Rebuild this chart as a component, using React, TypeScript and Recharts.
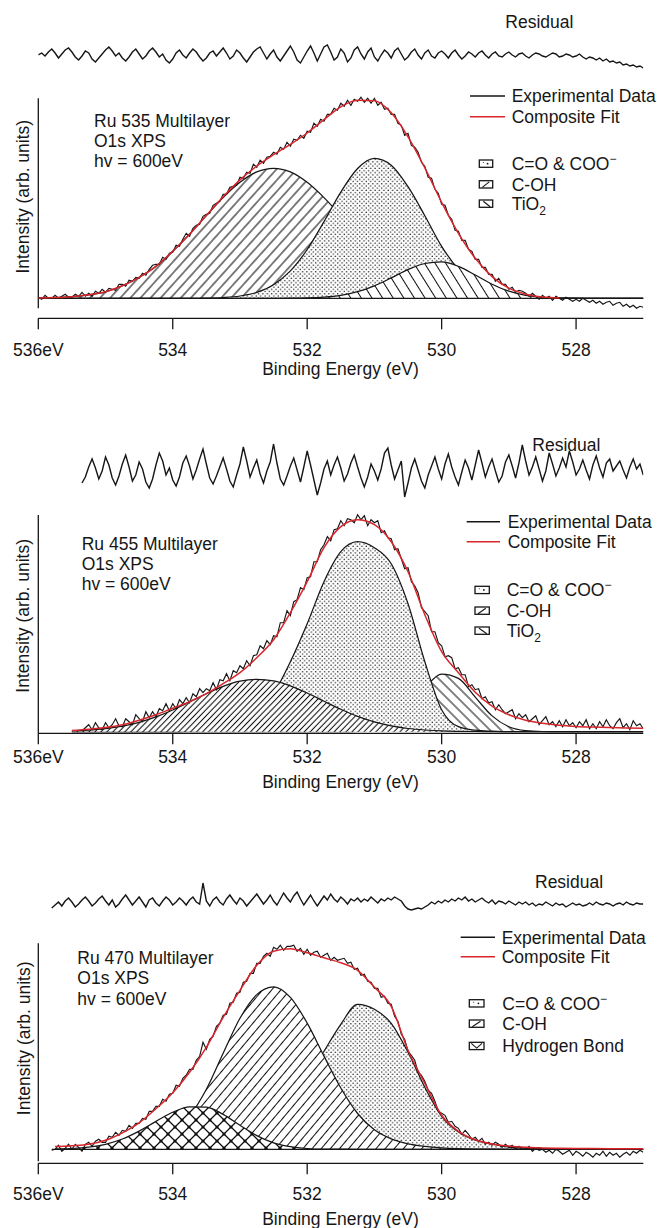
import React from 'react';
import { ComposedChart, LineChart, Line, Area, XAxis, YAxis, ReferenceLine } from 'recharts';

const FONT = '"Liberation Sans", Arial, Helvetica, sans-serif';
const INK = '#161616';
const RED = '#d8262c';
const W = 657;
const M_LEFT = 38.3;
const M_RIGHT = 13.7;

const E_HIGH = 536;
const E_LOW = 527;
const FINE_STEP = 0.05; // experimental data + residual sampling (eV)
const COARSE_STEP = 0.25; // fit + component sampling (eV)
const X_TICKS = [536, 534, 532, 530, 528];

// ---------------- Panel 1 : Ru 535 ----------------
const P1_EXP_START = 536;
const P1_EXP = [
  1, -1, 3, 0, 0, 3, 0, 2, 4, 1, 1, 4, 2, 6, 2, 5, 2, 7, 5, 9,
  6, 10, 9, 8, 14, 14, 12, 18, 17, 21, 20, 25, 23, 29, 33, 34, 34, 41, 39, 45,
  46, 53, 52, 59, 65, 62, 70, 73, 74, 82, 84, 85, 93, 95, 97, 104, 104, 111, 112, 113,
  121, 120, 126, 125, 134, 131, 138, 135, 141, 142, 146, 144, 151, 149, 156, 152, 159, 158, 163, 160,
  167, 166, 175, 172, 179, 177, 184, 184, 190, 188, 195, 192, 198, 193, 199, 197, 201, 196, 200, 195,
  200, 193, 196, 189, 190, 184, 184, 175, 173, 163, 165, 153, 151, 146, 136, 132, 121, 120, 109, 105,
  94, 93, 83, 79, 68, 67, 58, 58, 49, 47, 39, 39, 31, 31, 24, 24, 17, 20, 14, 14,
  9, 11, 6, 8, 7, 5, 2, 5, 2, -1, 3, 0, 2, -2, 2, 0, -2, 1, -1, -3,
  -1, -3, 0, -2, -4, -2, -5, -3, -6, -4, -3, -7, -5, -4, -8, -6, -9, -7, -10, -8,
  -9,
];
const P1_RES_START = 536;
const P1_RES = [
  0, 2, -1, 3, 6, 2, -3, 1, 5, 7, 3, -2, -5, -1, 4, 2, -4, -7, -3, 1,
  5, 8, 4, -1, 2, -3, -6, -2, 3, 6, 1, -4, -1, 4, 7, 3, -2, 1, -5, -8,
  -4, 2, 5, 0, -3, 2, 6, 3, -2, -6, -3, 2, 4, -1, 3, 7, 2, -4, -1, 5,
  2, -3, -7, -2, 3, 6, 8, 2, -4, 1, 5, -2, -6, -1, 4, 9, 3, -5, -8, -2,
  4, 9, 2, -6, 1, 8, 10, 3, -5, -2, 6, 2, -7, -3, 5, 8, 1, -4, 3, 7,
  -2, -6, 0, 5, 2, -3, 4, 7, 1, -5, -2, 3, 6, 0, -4, 2, 5, -1, -3, 2,
  4, 1, -3, 2, 5, 0, -4, -1, 3, 1, -2, 2, 4, 0, -3, 1, 3, -1, -2, 1,
  3, 0, -2, 1, 2, -1, -3, 0, 2, 1, -1, -2, 0, 2, 1, -2, -1, 1, 0, -2,
  -1, 1, -2, -4, -2, -3, -5, -3, -6, -4, -7, -6, -8, -7, -10, -9, -11, -10, -12, -11,
  -13,
];
const P1_FIT = [
  0.3, 0.7, 1.6, 3.5, 6.5, 12.5, 21, 32, 47, 64, 83, 101.5, 118.4, 132.3, 143.6, 153.9, 165.3, 178.6, 191.5,
  198, 197.5, 185.5, 161.5, 130.4, 96, 65, 40, 21.7, 10.1, 4.1, 1.3, 0.4, null, null, null, null, null,
];
const P1_COH = [
  0.3, 0.7, 1.6, 3.5, 6.5, 12.5, 21, 32, 47, 64, 82.6, 100.7, 116, 126.4, 130, 126.4, 116, 100.7, 82.6,
  64, 47, 32.4, 21.2, 13, 7.6, 4.2, 2.2, 1.1, 0.5, 0.2, 0, 0, 0, 0, 0, 0, 0,
];
const P1_CO = [
  0, 0, 0, 0, 0, 0, 0, 0, 0, 0, 0.2, 0.8, 2.3, 5.9, 13.6, 27.4, 48.8, 76.7, 106.2,
  129.8, 139.9, 133.1, 111.6, 82.6, 52, 29, 14.5, 6.5, 2.5, 0.9, 0.3, 0.1, 0, 0, 0, 0, 0,
];
const P1_TIO2 = [
  0, 0, 0, 0, 0, 0, 0, 0, 0, 0, 0, 0, 0, 0, 0, 0.1, 0.4, 1.2, 3,
  6.6, 12.5, 20.4, 28.7, 34.8, 36.4, 31.9, 23.3, 14.1, 7.1, 3, 1, 0.3, 0.1, 0, 0, 0, 0,
];

// ---------------- Panel 2 : Ru 455 ----------------
const P2_EXP_START = 535.35;
const P2_EXP = [
  1, 4,
  7, 2, 9, 4, 2, 9, 4, 7, 13, 6, 5, 13, 10, 7, 17, 13, 10, 20, 14, 20,
  15, 23, 21, 28, 21, 28, 23, 32, 28, 34, 29, 38, 35, 43, 39, 43, 41, 49, 42, 52,
  51, 58, 51, 61, 59, 66, 63, 71, 66, 76, 77, 86, 83, 91, 87, 96, 95, 109, 109, 121,
  116, 130, 132, 144, 142, 154, 155, 170, 170, 182, 187, 195, 191, 202, 203, 211, 206, 213, 212, 209,
  217, 212, 216, 206, 212, 209, 211, 199, 201, 194, 193, 182, 183, 173, 163, 164, 150, 146, 139, 124,
  120, 116, 100, 100, 89, 86, 75, 76, 74, 63, 64, 57, 57, 45, 47, 42, 43, 33, 35, 29,
  30, 22, 27, 22, 18, 20, 22, 13, 18, 14, 17, 10, 13, 16, 7, 11, 15, 7, 10, 5,
  11, 5, 12, 6, 9, 4, 10, 6, 12, 3, 8, 3, 10, 5, 12, 6, 3, 9, 13, 4,
  8, 2, 11, 6, 8, 3,
];
const P2_RES_START = 535.35;
const P2_RES = [
  -10, -4, 6, 14, 5, -6, 2, 16, 8, -5, -12, -3, 9, 18, 6, -8, -2, 11, 4, -9,
  -15, -6, 8, 20, 12, -2, 5, -7, -13, -4, 10, 17, 7, -6, 3, 14, 24, 9, -5, -11,
  -3, 6, 15, 4, -8, -14, -2, 9, 26, 12, -4, 5, 13, -1, -10, 2, 11, 29, 10, -6,
  -12, -3, 7, 15, 3, -9, 6, 22, 8, -7, -22, -10, 4, 12, -2, 8, 16, 5, -8, -1,
  10, 18, 6, -5, -14, -4, 9, 2, -7, 4, 20, 25, 8, -6, 3, 12, -24, -10, 5, 14,
  3, -8, -15, -2, 7, 16, 4, -6, 9, 19, 6, -4, -12, 1, 13, 5, -7, 8, 23, 10,
  -4, 6, 14, 2, -9, -3, 11, 18, 7, -5, 10, 28, 12, -2, 6, 16, 4, -8, 2, 20,
  9, -3, 5, 15, 6, 22, 11, -2, 4, 13, 3, -6, 8, 17, 5, -4, 10, 14, 2, 7,
  12, 3, -5, 6, 14, 4, 9, -2,
];
const P2_FIT = [
  null, null, 1.2, 2.5, 4.2, 7, 11.5, 17, 23.5, 30, 38, 48, 59, 74, 92, 119, 150, 184, 205,
  212, 207, 190, 160, 117, 80, 59, 39.5, 25.5, 17, 11.5, 8.5, 6.5, 5.3, 4.6, 4.1, 3.7, 3.4,
];
const P2_COH = [
  null, null, 0.8, 1.6, 3.1, 5.6, 9.4, 14.8, 21.7, 29.8, 38, 45.4, 50.5, 52.4, 50.8, 45.9, 38.7, 30.4, 22.4,
  15.3, 9.8, 5.8, 3.2, 1.7, 0.8, 0.4, 0.2, 0.1, 0, 0, 0, 0, 0, 0, 0, 0, 0,
];
const P2_CO = [
  null, null, 0, 0, 0, 0, 0, 0, 0, 0.5, 1.5, 3.5, 7, 18, 38, 70, 108, 150, 180,
  190, 184, 168, 128, 70, 22, 5, 1.5, 0.5, 0, 0, 0, 0, 0, 0, 0, 0, 0,
];
const P2_TIO2 = [
  null, null, 0, 0, 0, 0, 0, 0, 0, 0, 0, 0, 0, 0, 0, 0, 0, 0, 0,
  0.4, 2.3, 8.7, 23.3, 43.7, 57.6, 53.3, 34.6, 15.8, 5, 1.1, 0.2, 0, 0, 0, 0, 0, 0,
];

// ---------------- Panel 3 : Ru 470 ----------------
const P3_EXP_START = 535.8;
const P3_EXP = [
  -1,
  0, 4, -2, 1, 5, 0, 5, 2, -2, 5, 7, 3, 8, 10, 7, 7, 13, 12, 17, 14,
  19, 18, 24, 21, 26, 26, 31, 30, 38, 38, 43, 43, 50, 48, 55, 56, 64, 63, 71, 74,
  80, 80, 89, 93, 107, 100, 110, 113, 123, 126, 134, 135, 146, 147, 156, 157, 167, 168, 176, 176,
  186, 186, 193, 196, 193, 202, 200, 204, 199, 203, 203, 204, 198, 201, 195, 200, 194, 197, 198, 192,
  194, 196, 189, 192, 189, 190, 191, 186, 187, 180, 181, 174, 175, 168, 167, 161, 161, 152, 153, 146,
  145, 133, 128, 115, 110, 98, 94, 89, 77, 74, 68, 59, 56, 48, 38, 36, 34, 27, 28, 23,
  21, 15, 19, 15, 10, 12, 8, 11, 5, 7, 4, 7, 5, 2, 5, 2, 4, 0, 3, 0,
  0, 3, -2, 1, -1, 0, -3, -1, -4, 0, -2, -5, -3, -1, -6, -2, -4, -7, -3, -5,
  -8, -4, -6, -2, -7, -3, -6, -4, -8, -5, -3, -6, -2, -4, -1, -3,
];
const P3_RES_START = 535.8;
const P3_RES = [
  -5, -2, 1, -3, 2, 5, 1, -4, -1, 3, 6, 2, -3, 0, 4, 7, 2, -2, 3, -4,
  -1, 4, 8, 3, -2, 2, 6, 1, -4, 3, 5, 0, -3, 2, 6, 3, -2, 1, 5, 2,
  -2, 3, 6, 1, -1, 20, 2, -3, 3, 6, 1, -2, 4, 8, 3, -1, 5, 2, -3, 1,
  5, 9, 4, -1, 3, 8, 2, -2, 4, 10, 5, 1, 7, 11, 4, -2, 3, 8, 2, -3,
  2, 7, 3, 9, 4, 1, 6, 3, -1, 4, 2, 5, 1, 4, 2, 6, 3, 0, 4, 2,
  5, 3, 6, 4, 2, -3, -6, -7, -6, -5, -6, -4, -2, 1, -1, 2, 0, 3, 1, 4,
  2, 5, 3, 6, 2, 4, 1, 3, 5, 2, 0, 3, -1, 2, 1, -1, 2, 0, -2, 1,
  -1, 1, -2, 0, -3, -1, -2, 1, -1, -3, 0, -2, -1, -4, -2, 0, -2, -1, -3, -2,
  0, -2, 1, -1, -2, 0, -1, -3, -1, 0, -2, 1, -1, -2, 0, -1, -1,
];
const P3_FIT = [
  null, 2.8, 3.6, 5, 9, 16.5, 26.5, 40.5, 56.5, 77, 102, 132, 159, 184, 198, 200.5, 196.5, 191.5, 186.5,
  179, 162, 143, 99, 66, 34, 18, 9.5, 5.3, 3.2, 2, 1.4, 1, 0.8, 0.7, 0.6, 0.5, 0.5,
];
const P3_CO = [
  null, 0, 0, 0, 0, 0, 0, 0, 0.1, 0.2, 0.6, 2, 6, 15.6, 29, 46, 69.5, 98, 125,
  145, 140, 126, 97, 62, 33, 17.3, 9.2, 5.3, 2.2, 1.2, 0.6, 0.2, 0, 0, 0, 0, 0,
];
const P3_COH = [
  null, 0, 0, 0.1, 0.3, 1, 2.8, 7, 16, 33, 60, 96, 131, 154.7, 162.5, 151.9, 126.2, 93.2, 61.3,
  35.8, 19.5, 10.5, 5.5, 3, 1.5, 0.7, 0.3, 0.1, 0, 0, 0, 0, 0, 0, 0, 0, 0,
];
const P3_HB = [
  null, 0.3, 0.8, 2.1, 5, 10.3, 18.2, 27.9, 37, 42.5, 42.2, 34.9, 24, 13.7, 6.5, 2.6, 0.8, 0.2, 0.1,
  0, 0, 0, 0, 0, 0, 0, 0, 0, 0, 0, 0, 0, 0, 0, 0, 0, 0,
];

// ---------------- table builders ----------------
function buildMain(expStart: number, exp: number[], fit: (number | null)[], comps: Record<string, (number | null)[]>) {
  const n = Math.round((E_HIGH - E_LOW) / FINE_STEP);
  const ratio = Math.round(COARSE_STEP / FINE_STEP);
  const off = Math.round((E_HIGH - expStart) / FINE_STEP);
  const rows: any[] = [];
  for (let i = 0; i <= n; i++) {
    const row: any = { e: Math.round((E_HIGH - i * FINE_STEP) * 100) / 100 };
    const j = i - off;
    row.exp = j >= 0 && j < exp.length ? exp[j] : null;
    if (i % ratio === 0) {
      const k = i / ratio;
      row.fit = fit[k];
      Object.keys(comps).forEach((key) => {
        row[key] = comps[key][k];
      });
    }
    rows.push(row);
  }
  return rows;
}

function buildResidual(start: number, values: number[]) {
  const off = Math.round((E_HIGH - start) / FINE_STEP);
  return values.map((r, j) => ({ e: Math.round((E_HIGH - (off + j) * FINE_STEP) * 100) / 100, r }));
}

const DATA1 = buildMain(P1_EXP_START, P1_EXP, P1_FIT, { coh: P1_COH, co: P1_CO, tio2: P1_TIO2 });
const DATA2 = buildMain(P2_EXP_START, P2_EXP, P2_FIT, { coh: P2_COH, co: P2_CO, tio2: P2_TIO2 });
const DATA3 = buildMain(P3_EXP_START, P3_EXP, P3_FIT, { coh: P3_COH, co: P3_CO, hb: P3_HB });
const RES1 = buildResidual(P1_RES_START, P1_RES);
const RES2 = buildResidual(P2_RES_START, P2_RES);
const RES3 = buildResidual(P3_RES_START, P3_RES);

// ---------------- patterns ----------------
const Dots = ({ id }: { id: string }) => (
  <pattern id={id} width={4.4} height={4.4} patternUnits="userSpaceOnUse">
    <rect width={4.4} height={4.4} fill="#fff" />
    <circle cx={1.1} cy={1.1} r={0.75} fill="#262626" />
    <circle cx={3.3} cy={3.3} r={0.75} fill="#262626" />
  </pattern>
);
const Hatch = ({ id, w, angle }: { id: string; w: number; angle: number }) => (
  <pattern id={id} width={w} height={w} patternUnits="userSpaceOnUse" patternTransform={`rotate(${angle})`}>
    <rect width={w} height={w} fill="#fff" />
    <line x1={w / 2} y1={0} x2={w / 2} y2={w} stroke="#0d0d0d" strokeWidth={1.05} />
  </pattern>
);
const Cross = ({ id, s }: { id: string; s: number }) => (
  <pattern id={id} width={s} height={s} patternUnits="userSpaceOnUse">
    <rect width={s} height={s} fill="#fff" />
    <path d={`M0,0L${s},${s}M${s},0L0,${s}`} stroke="#0d0d0d" strokeWidth={1.25} />
    <circle cx={s / 2} cy={s / 2} r={1.6} fill="#0d0d0d" />
    <circle cx={0} cy={0} r={1.6} fill="#0d0d0d" />
    <circle cx={s} cy={0} r={1.6} fill="#0d0d0d" />
    <circle cx={0} cy={s} r={1.6} fill="#0d0d0d" />
    <circle cx={s} cy={s} r={1.6} fill="#0d0d0d" />
  </pattern>
);

const tickRenderer = (baseline: number) => (p: any) => (
  <text x={p.x} y={baseline} textAnchor="middle" fontFamily={FONT} fontSize={17.5} fill={INK}>
    {p.payload.value === 536 ? '536eV' : String(p.payload.value)}
  </text>
);

type Layer = { key: string; fill: string };

function MainPanel(props: {
  top: number;
  height: number;
  plotBottom: number;
  domain: [number, number];
  data: any[];
  layers: Layer[];
  defs: React.ReactNode;
  tickBaseline: number;
  yAxisFrom: number;
  yAxisTo: number;
  baseFrom: number | null;
}) {
  const { top, height, plotBottom, domain, data, layers, defs, tickBaseline, yAxisFrom, yAxisTo, baseFrom } = props;
  const xAxisH = 30;
  const plotTop = plotBottom - (domain[1] - domain[0]);
  const margin = { top: plotTop - top, bottom: top + height - plotBottom - xAxisH, left: M_LEFT, right: M_RIGHT };
  return (
    <div style={{ position: 'absolute', left: 0, top, width: W, height }}>
      <ComposedChart width={W} height={height} data={data} margin={margin}>
        <defs>{defs}</defs>
        <XAxis
          dataKey="e"
          type="number"
          domain={[E_LOW, E_HIGH]}
          reversed
          allowDataOverflow
          ticks={X_TICKS}
          interval={0}
          height={xAxisH}
          axisLine={{ stroke: INK, strokeWidth: 1.3 }}
          tickLine={{ stroke: INK, strokeWidth: 1.3 }}
          tickSize={11}
          tick={tickRenderer(tickBaseline - top)}
        />
        <YAxis type="number" domain={domain} allowDataOverflow hide width={0} />
        {layers.map((l) => (
          <Area
            key={l.key}
            dataKey={l.key}
            type="monotone"
            connectNulls
            baseValue={0}
            stroke={INK}
            strokeWidth={1.25}
            fill={`url(#${l.fill})`}
            fillOpacity={1}
            dot={false}
            activeDot={false}
            isAnimationActive={false}
          />
        ))}
        {baseFrom !== null && (
          <ReferenceLine segment={[{ x: baseFrom, y: 0 }, { x: E_LOW, y: 0 }]} stroke={INK} strokeWidth={1.25} />
        )}
        <ReferenceLine segment={[{ x: E_HIGH, y: yAxisFrom }, { x: E_HIGH, y: yAxisTo }]} stroke={INK} strokeWidth={1.3} />
        <Line dataKey="exp" type="linear" stroke={INK} strokeWidth={1.15} dot={false} activeDot={false} isAnimationActive={false} />
        <Line dataKey="fit" type="monotone" connectNulls stroke={RED} strokeWidth={1.5} dot={false} activeDot={false} isAnimationActive={false} />
      </ComposedChart>
    </div>
  );
}

function ResidualPanel({ top, height, domain, data }: { top: number; height: number; domain: [number, number]; data: any[] }) {
  return (
    <div style={{ position: 'absolute', left: 0, top, width: W, height }}>
      <LineChart width={W} height={height} data={data} margin={{ top: 0, bottom: 0, left: M_LEFT, right: M_RIGHT }}>
        <XAxis dataKey="e" type="number" domain={[E_LOW, E_HIGH]} reversed allowDataOverflow hide height={0} />
        <YAxis type="number" domain={domain} allowDataOverflow hide width={0} />
        <Line dataKey="r" type="linear" stroke={INK} strokeWidth={1.4} dot={false} activeDot={false} isAnimationActive={false} />
      </LineChart>
    </div>
  );
}

// ---------------- overlay texts & legends ----------------
const txt = { fontFamily: FONT, fontSize: 17.5, fill: INK } as const;

function Box({ x, y, w, kind }: { x: number; y: number; w: number; kind: string }) {
  const h = 7.3;
  return (
    <g>
      <rect x={x} y={y} width={w} height={h} fill="#fff" stroke={INK} strokeWidth={1.3} />
      {kind === 'dots' && (
        <g fill={INK}>
          <circle cx={x + w * 0.62} cy={y + h * 0.5} r={0.9} />
          <circle cx={x + w * 0.3} cy={y + h * 0.35} r={0.5} />
        </g>
      )}
      {kind === 'fwd' && <line x1={x + 3} y1={y + h - 0.6} x2={x + w - 3.5} y2={y + 1.2} stroke={INK} strokeWidth={1.1} />}
      {kind === 'back' && <line x1={x + 4} y1={y + 1.2} x2={x + w - 2.5} y2={y + h - 0.6} stroke={INK} strokeWidth={1.1} />}
      {kind === 'cross' && (
        <path d={`M${x + 2},${y + 1} L${x + w / 2},${y + h - 1.5} L${x + w - 2},${y + 1}`} fill="none" stroke={INK} strokeWidth={1.1} />
      )}
    </g>
  );
}

function PanelTexts(p: {
  resX: number; resY: number;
  title: string; tx: number; ty: number;
  legX0: number; legX1: number; legTextX: number; legY1: number; legY2: number;
  boxX: number; boxW: number; boxTops: number[]; boxTextX: number; labels: React.ReactNode[]; kinds: string[];
  xTitleY: number; yTitleX: number; yTitleY: number;
}) {
  return (
    <g>
      <text x={p.resX} y={p.resY} {...txt}>Residual</text>
      <text x={p.tx} y={p.ty} {...txt}>{p.title}</text>
      <text x={p.tx} y={p.ty + 20.2} {...txt}>O1s XPS</text>
      <text x={p.tx} y={p.ty + 40.4} {...txt}>hv = 600eV</text>
      <line x1={p.legX0} y1={p.legY1} x2={p.legX1} y2={p.legY1} stroke={INK} strokeWidth={1.5} />
      <text x={p.legTextX} y={p.legY1 + 6.2} {...txt}>Experimental Data</text>
      <line x1={p.legX0} y1={p.legY2} x2={p.legX1} y2={p.legY2} stroke={RED} strokeWidth={1.6} />
      <text x={p.legTextX} y={p.legY2 + 6.2} {...txt}>Composite Fit</text>
      {p.boxTops.map((t, i) => (
        <g key={i}>
          <Box x={p.boxX} y={t} w={p.boxW} kind={p.kinds[i]} />
          <text x={p.boxTextX} y={t + 3.65 + 6.2} {...txt}>{p.labels[i]}</text>
        </g>
      ))}
      <text x={340.5} y={p.xTitleY} textAnchor="middle" {...txt}>Binding Energy (eV)</text>
      <text x={p.yTitleX} y={p.yTitleY} textAnchor="middle" transform={`rotate(-90, ${p.yTitleX}, ${p.yTitleY})`} {...txt}>
        Intensity (arb. units)
      </text>
    </g>
  );
}

const CO_LABEL = (
  <>
    C=O &amp; COO<tspan dy={-7} fontSize={12}>−</tspan>
  </>
);
const TIO2_LABEL = (
  <>
    TiO<tspan dy={5} fontSize={12}>2</tspan>
  </>
);

export default function App() {
  return (
    <div style={{ position: 'absolute', left: 0, top: 0, width: W, height: 1228, background: '#fff', overflow: 'hidden' }}>
      <ResidualPanel top={25} height={60} domain={[-30, 30]} data={RES1} />
      <MainPanel
        top={0}
        height={380}
        plotBottom={318.3}
        domain={[-20, 205]}
        data={DATA1}
        layers={[
          { key: 'coh', fill: 'p1coh' },
          { key: 'co', fill: 'p1dots' },
          { key: 'tio2', fill: 'p1tio' },
        ]}
        defs={
          <>
            <Dots id="p1dots" />
            <Hatch id="p1coh" w={7.5} angle={42} />
            <Hatch id="p1tio" w={9} angle={-32} />
          </>
        }
        tickBaseline={355.6}
        yAxisFrom={-10}
        yAxisTo={200}
        baseFrom={536}
      />

      <ResidualPanel top={433} height={80} domain={[-40, 40]} data={RES2} />
      <MainPanel
        top={400}
        height={400}
        plotBottom={733.3}
        domain={[-1.6, 222]}
        data={DATA2}
        layers={[
          { key: 'tio2', fill: 'p2tio' },
          { key: 'co', fill: 'p2dots' },
          { key: 'coh', fill: 'p2coh' },
        ]}
        defs={
          <>
            <Dots id="p2dots" />
            <Hatch id="p2coh" w={4.3} angle={44} />
            <Hatch id="p2tio" w={7.8} angle={-45} />
          </>
        }
        tickBaseline={763}
        yAxisFrom={-1.6}
        yAxisTo={216.7}
        baseFrom={null}
      />

      <ResidualPanel top={873} height={60} domain={[-30, 30]} data={RES3} />
      <MainPanel
        top={840}
        height={388}
        plotBottom={1163.3}
        domain={[-14, 210]}
        data={DATA3}
        layers={[
          { key: 'co', fill: 'p3dots' },
          { key: 'coh', fill: 'p3coh' },
          { key: 'hb', fill: 'p3hb' },
        ]}
        defs={
          <>
            <Dots id="p3dots" />
            <Hatch id="p3coh" w={7} angle={40} />
            <Cross id="p3hb" s={14} />
          </>
        }
        tickBaseline={1199.6}
        yAxisFrom={-12}
        yAxisTo={206}
        baseFrom={535.8}
      />

      <svg width={W} height={1228} style={{ position: 'absolute', left: 0, top: 0, pointerEvents: 'none' }}>
        <PanelTexts
          resX={505.3} resY={28}
          title="Ru 535 Multilayer" tx={94} ty={127}
          legX0={470} legX1={505} legTextX={511.7} legY1={96} legY2={116.7}
          boxX={479.3} boxW={13.4} boxTops={[160, 180.7, 200]} boxTextX={511.7}
          labels={[CO_LABEL, 'C-OH', TIO2_LABEL]} kinds={['dots', 'fwd', 'back']}
          xTitleY={374.5} yTitleX={29.2} yTitleY={196.7}
        />
        <PanelTexts
          resX={532.3} resY={450.8}
          title="Ru 455 Multilayer" tx={81.7} ty={549.8}
          legX0={466.7} legX1={500} legTextX={507.7} legY1={521.7} legY2={541.7}
          boxX={475} boxW={14.3} boxTops={[586.3, 607, 627]} boxTextX={506.7}
          labels={[CO_LABEL, 'C-OH', TIO2_LABEL]} kinds={['dots', 'fwd', 'back']}
          xTitleY={788} yTitleX={29.5} yTitleY={615.8}
        />
        <PanelTexts
          resX={535} resY={887.5}
          title="Ru 470 Multilayer" tx={77.3} ty={964.2}
          legX0={460.7} legX1={495} legTextX={501.7} legY1={937.3} legY2={956.7}
          boxX={469.3} boxW={14.7} boxTops={[999.7, 1020, 1042.3]} boxTextX={502.3}
          labels={[CO_LABEL, 'C-OH', 'Hydrogen Bond']} kinds={['dots', 'fwd', 'cross']}
          xTitleY={1224.6} yTitleX={30.5} yTitleY={1038.3}
        />
      </svg>
    </div>
  );
}
